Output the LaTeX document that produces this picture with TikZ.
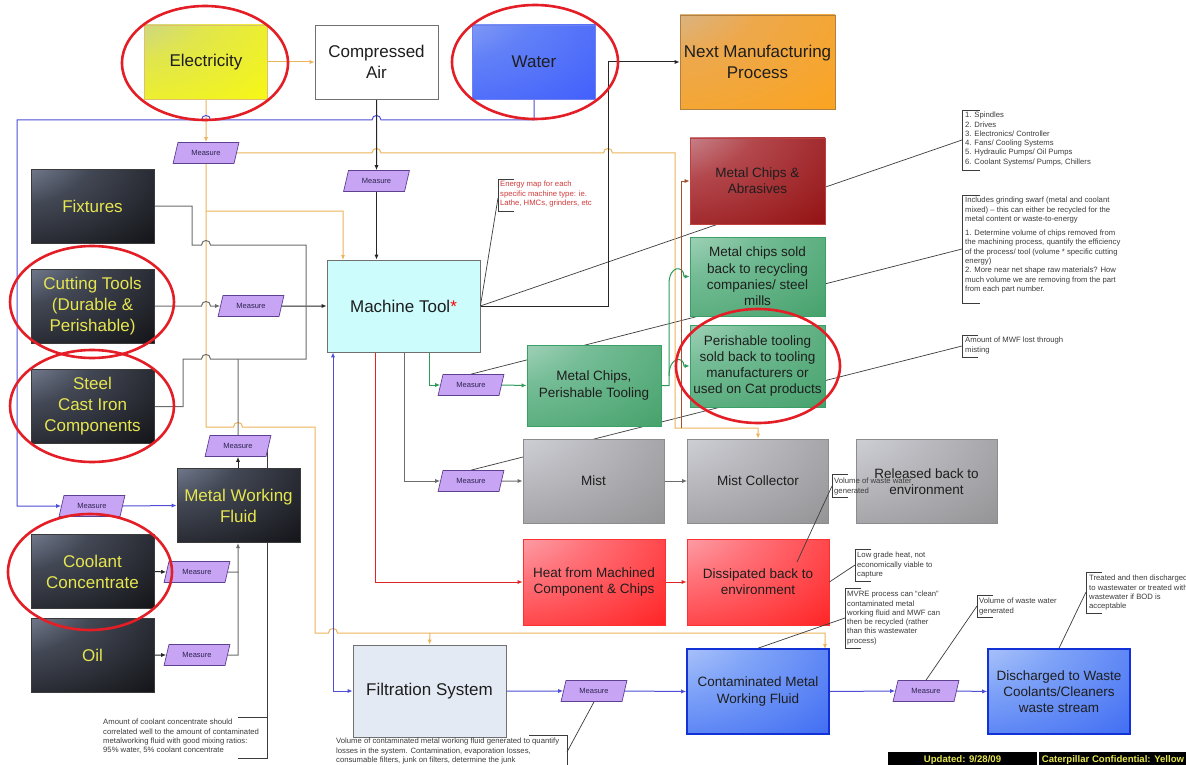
\documentclass[tikz,border=0pt]{standalone}
\usepackage{fontspec}
\setmainfont{Liberation Sans}
\usetikzlibrary{arrows.meta,shapes.geometric}

\pgfdeclarelayer{paper}
\pgfdeclarelayer{behind}
\pgfdeclarelayer{wires}
\pgfsetlayers{paper,behind,wires,main}

% palette
\definecolor{ink}{HTML}{1E1E1E}
\definecolor{gold}{HTML}{E6E650}
\definecolor{darkedge}{HTML}{3A3A3A}
\definecolor{elecedge}{HTML}{E0C070}
\definecolor{wateredge}{HTML}{7080F0}
\definecolor{nextedge}{HTML}{B08040}
\definecolor{chipedge}{HTML}{C04040}
\definecolor{greenedge}{HTML}{3AA066}
\definecolor{greyedge}{HTML}{8C8C8C}
\definecolor{heatedge}{HTML}{FF3030}
\definecolor{fluidedge}{HTML}{1232D8}
\definecolor{toolfill}{HTML}{CCFCFC}
\definecolor{filtfill}{HTML}{E4EAF4}
\definecolor{plainedge}{HTML}{707070}
\definecolor{measfill}{HTML}{C8A4F4}
\definecolor{measedge}{HTML}{5E4090}
\definecolor{meastext}{HTML}{2C2450}
\definecolor{wireorange}{HTML}{EDB45A}
\definecolor{wireblue}{HTML}{4E4ED6}
\definecolor{wiregrey}{HTML}{6C6C6C}
\definecolor{wireblack}{HTML}{262626}
\definecolor{wiregreen}{HTML}{2E9A58}
\definecolor{wirered}{HTML}{E02424}
\definecolor{wirebrown}{HTML}{A0522D}
\definecolor{notegrey}{HTML}{3C3C3C}
\definecolor{notered}{HTML}{D03A3A}
\definecolor{ring}{HTML}{E41E26}

% corner glow: pale at the top-left corner, full colour over most of the box
% (#1 name, #2 corner tint, #3 transition colour, #4 body colour, #5 far corner; each r,g,b in 0..1)
\newcommand\glowshade[5]{%
  \pgfdeclareradialshading{#1}{\pgfpoint{-50bp}{50bp}}%
    {rgb(0bp)=(#2); rgb(38bp)=(#3); rgb(76bp)=(#4); rgb(145bp)=(#5)}}
\glowshade{darkglow}{.72,.78,.89}{.26,.28,.33}{.05,.05,.06}{0,0,0}
\glowshade{elecglow}{.70,.76,.82}{.88,.90,.30}{.98,.98,.05}{1,1,0}
\glowshade{waterglow}{.68,.75,.95}{.38,.50,.97}{.24,.36,.99}{.17,.31,1}
\glowshade{nextglow}{.74,.77,.83}{.93,.66,.30}{.99,.64,.10}{1,.62,0}
\glowshade{chipglow}{.90,.86,.90}{.70,.28,.30}{.56,.04,.04}{.46,0,0}
\glowshade{greenglow}{.88,.94,.92}{.46,.74,.59}{.25,.62,.40}{.17,.53,.33}
\glowshade{greyglow}{.93,.94,.97}{.73,.73,.75}{.56,.56,.57}{.44,.44,.44}
\glowshade{heatglow}{.97,.89,.92}{1,.44,.47}{1,.10,.10}{1,0,0}
\glowshade{fluidglow}{.91,.94,.99}{.50,.64,.97}{.22,.40,.95}{.08,.25,.92}

% a horizontal line jumping over a vertical one at (#1,#2), drawn left to right
\newcommand\hopr[2]{-- ({#1-4.5},#2) .. controls ({#1-4.5},{#2-6}) and ({#1+4.5},{#2-6}) .. ({#1+4.5},#2)}
% a callout bracket "[" at x=#2 from y=#3 to y=#4, arm length #1
\newcommand\bracketL[4][16]{\draw[callout] ({#2+#1},#3) -- (#2,#3) -- (#2,#4) -- ({#2+#1},#4);}

\tikzset{
  fbig/.style={font=\fontsize{17}{21}\selectfont},
  fsmall/.style={font=\fontsize{13.5}{16.3}\selectfont},
  unit/.style={rectangle, inner sep=2pt, align=center, text=ink, line width=0.8pt},
  glow/.style={shade, shading=#1},
  supply/.style={unit, fbig, minimum width=123pt, minimum height=74pt},
  darkbox/.style={supply, text=gold, draw=darkedge, glow=darkglow},
  greenbox/.style={unit, fsmall, draw=greenedge, glow=greenglow},
  greybox/.style={unit, fsmall, minimum width=141pt, minimum height=84pt, draw=greyedge, glow=greyglow},
  heatbox/.style={unit, fsmall, minimum width=142pt, minimum height=86pt, draw=heatedge, glow=heatglow},
  fluidbox/.style={unit, fsmall, minimum width=142pt, minimum height=85pt, draw=fluidedge, line width=1.6pt, glow=fluidglow},
  measure/.style={trapezium, trapezium left angle=64, trapezium right angle=116, trapezium stretches=true,
    minimum width=66pt, minimum height=21pt, inner sep=0pt, draw=measedge, fill=measfill, line width=0.7pt,
    font=\fontsize{7.5}{8}\selectfont, text=meastext},
  wire/.style={line width=1pt},
  orng/.style={wire, draw=wireorange},
  blu/.style={wire, draw=wireblue},
  gry/.style={wire, draw=wiregrey},
  blk/.style={wire, draw=wireblack},
  grn/.style={wire, draw=wiregreen},
  rd/.style={wire, draw=wirered},
  brn/.style={wire, draw=wirebrown},
  callout/.style={draw=notegrey, line width=0.7pt},
  note/.style={anchor=north west, inner sep=0pt, align=left, font=\fontsize{7.7}{9.3}\selectfont, text=notegrey},
  ringmark/.style={draw=ring, line width=2.6pt},
  footbox/.style={fill=black, anchor=north, inner sep=0pt, minimum height=24pt, text height=10pt, text depth=14pt,
    text=gold, font=\bfseries\fontsize{9.6}{10}\selectfont},
}

\begin{document}
\begin{tikzpicture}[x=1pt, y=-1pt, >={Latex[length=5pt,width=4.2pt]}]
\useasboundingbox (0,0) rectangle (1186,765);
\begin{pgfonlayer}{paper}
  \fill[white] (0,0) rectangle (1186,765);
\end{pgfonlayer}

% ---------- resources ----------
\node[supply, draw=elecedge, glow=elecglow] (elec) at (206,62) {Electricity};
\node[supply, draw=plainedge, fill=white] (air) at (376.5,62) {Compressed\\Air};
\node[supply, draw=wateredge, glow=waterglow] (water) at (534,62) {Water};
\node[unit, fbig, minimum width=155pt, minimum height=94pt, draw=nextedge, glow=nextglow] (next) at (757.5,62) {Next Manufacturing\\Process};

\node[darkbox] (fix) at (92.5,206) {Fixtures};
\node[darkbox] (cut) at (92.5,306) {Cutting Tools\\(Durable \&\\Perishable)};
\node[darkbox] (steel) at (92.5,406.5) {Steel\\Cast Iron\\Components};
\node[darkbox] (mwf) at (238.5,505.5) {Metal Working\\Fluid};
\node[darkbox] (cool) at (92.5,571.5) {Coolant\\Concentrate};
\node[darkbox] (oil) at (92.5,655) {Oil};

% ---------- process ----------
\node[unit, fbig, minimum width=153pt, minimum height=92pt, draw=plainedge, fill=toolfill] (mt) at (403.5,306) {Machine Tool\textcolor{red}{*}};

\node[unit, fsmall, minimum width=135pt, minimum height=86pt, draw=chipedge, glow=chipglow] (mca) at (757.5,181) {Metal Chips \&\\Abrasives};
\node[greenbox, minimum width=135pt, minimum height=79pt] (mcs) at (757.5,276.5) {Metal chips sold\\back to recycling\\companies/ steel\\mills};
\node[greenbox, minimum width=135pt, minimum height=82pt] (pt) at (757.5,366) {Perishable tooling\\sold back to tooling\\manufacturers or\\used on Cat products};
\node[greenbox, minimum width=134pt, minimum height=81pt] (mcpt) at (594,385.5) {Metal Chips,\\Perishable Tooling};

\node[greybox] (mist) at (593.5,481) {Mist};
\node[greybox] (mc) at (758,481) {Mist Collector};
\node[greybox] (rel) at (926.5,481.5) {Released back to\\environment};

\node[heatbox] (heat) at (594,582) {Heat from Machined\\Component \& Chips};
\node[heatbox] (diss) at (758,582) {Dissipated back to\\environment};

\node[unit, fbig, minimum width=153pt, minimum height=92pt, draw=plainedge, fill=filtfill] (filt) at (429.5,691) {Filtration System};
\node[fluidbox] (cont) at (758,691.5) {Contaminated Metal\\Working Fluid};
\node[fluidbox] (disc) at (1059,691.5) {Discharged to Waste\\Coolants/Cleaners\\waste stream};

% ---------- measuring points ----------
\node[measure] (m1) at (206,153) {Measure};
\node[measure] (m2) at (376.5,181) {Measure};
\node[measure] (m3) at (251,306) {Measure};
\node[measure] (m4) at (238,446) {Measure};
\node[measure] (m5) at (92,506) {Measure};
\node[measure] (m6) at (197,572) {Measure};
\node[measure] (m7) at (197,655) {Measure};
\node[measure] (m8) at (471,385) {Measure};
\node[measure] (m9) at (471,481) {Measure};
\node[measure] (m10) at (594,691) {Measure};
\node[measure] (m11) at (926,691) {Measure};

% ---------- callout leaders passing behind boxes ----------
\begin{pgfonlayer}{behind}
  \draw[callout] (mt.east) -- (962,140);
  \draw[callout] (m8.north) -- (962,249);
  \draw[callout] (m9.north) -- (962,346);
  \draw[callout] (267,448) -- (267,758) -- (238,758) (267,717) -- (238,717);
\end{pgfonlayer}

% ---------- flows ----------
\begin{pgfonlayer}{wires}
  % electricity
  \draw[orng,->] (elec.east) -- (air.west);
  \draw[orng,->] (elec.south) -- (m1.north);
  \draw[orng,->] (m1.east) \hopr{376.5}{153} \hopr{608}{153} -- (675,153) -- (675,428) -| (mc.north);
  \draw[orng,->] (m1.south) -- (206,211) -| (343,260);
  \draw[orng,->] (206,211) -- (206,427) \hopr{238}{427} -- (315,427) -- (315,633) \hopr{333}{633} -- (825,633) -- (825,649);
  \draw[orng,->] (430,633) -- (filt.north);

  % water
  \draw[blu,<-] (m5.west) -- (17,506) -- (17,120) \hopr{206}{120} \hopr{376.5}{120} -- (water.south |- 0,120) -- (water.south);
  \draw[blu,->] (m5.east) -- (mwf.west);
  \draw[blu,<->] (mt.south -| 333,0) -- (333,691) -- (filt.west);
  \draw[blu,->] (filt.east) -- (m10.west);
  \draw[blu,->] (m10.east) -- (cont.west);
  \draw[blu,->] (cont.east) -- (m11.west);
  \draw[blu,->] (m11.east) -- (disc.west);

  % compressed air and material inputs
  \draw[blk,->] (air.south) -- (m2.north);
  \draw[blk,->] (m2.south) -- (m2.south |- mt.north);
  \draw[blk,->] (mt.east) -- (608,306) -- (608,62) -- (next.west);
  \draw[gry,->] (cut.east) \hopr{206}{306} -- (m3.west);
  \draw[blk,->] (m3.east) -- (mt.west);
  \draw[gry] (fix.east) -- (192,206) -- (192,245) \hopr{206}{245} -- (306,245) -- (306,306);
  \draw[gry] (steel.east) -- (183,406.5) -- (183,359) \hopr{206}{359} -- (306,359) -- (306,306);
  \draw[gry] (m4.north) -- (238,359);
  \draw[blk,->] (mwf.north -| m4.south) -- (m4.south);
  \draw[blk,->] (cool.east) -- (m6.west);
  \draw[gry,->] (m6.east) -- (238,572) -- (238,543);
  \draw[blk,->] (oil.east) -- (m7.west);
  \draw[gry] (m7.east) -- (238,655) -- (238,572);

  % outputs of the machine tool
  \draw[grn,->] (mt.south -| 429,0) |- (m8.west);
  \draw[grn,->] (m8.east) -- (mcpt.west);
  \draw[grn,->] (mcpt.east) -- (669,385.5) -- (669,284) .. controls (669,265) and (684,265) .. (684,276.5) -- (mcs.west);
  \draw[grn,->] (669,376) .. controls (669,356) and (684,356) .. (684,366) -- (pt.west);
  \draw[brn,->] (681,428) -- (681,181) -- (mca.west);
  \draw[gry,->] (mt.south -| 404,0) |- (m9.west);
  \draw[gry,->] (m9.east) -- (mist.west);
  \draw[gry,->] (mist.east) -- (mc.west);
  \draw[rd,->] (mt.south -| 375,0) |- (heat.west);
  \draw[rd,->] (heat.east) -- (diss.west);
\end{pgfonlayer}

% ---------- notes ----------
\draw[callout] (mt.east) -- (498,198);
\bracketL{498}{179}{211}
\node[note, text=notered] (n1) at (500,181) {Energy map for each\\specific machine type: ie.\\Lathe, HMCs, grinders, etc};

\bracketL[18]{962}{110}{170}
\node[note] (n2) at (965,112) {1. Spindles\\2. Drives\\3. Electronics/ Controller\\4. Fans/ Cooling Systems\\5. Hydraulic Pumps/ Oil Pumps\\6. Coolant Systems/ Pumps, Chillers};

\bracketL[18]{962}{195}{303}
\node[note] (n3) at (965,197) {Includes grinding swarf (metal and coolant\\mixed) – this can either be recycled for the\\metal content or waste-to-energy\\[5pt]1. Determine volume of chips removed from\\the machining process, quantify the efficiency\\of the process/ tool (volume * specific cutting\\energy)\\2. More near net shape raw materials? How\\much volume we are removing from the part\\from each part number.};

\bracketL{962}{335}{357}
\node[note] (n4) at (965,337) {Amount of MWF lost through\\misting};

\draw[callout] (797,562) -- (832,486);
\fill[white] (832,474) rectangle (848,497);
\bracketL{832}{474}{497}
\node[note] (n5) at (834,478) {Volume of waste water\\generated};

\draw[callout] (diss.east) -- (855,565);
\bracketL{855}{549}{581}
\node[note] (n6) at (857,552) {Low grade heat, not\\economically viable to\\capture};

\draw[callout] (cont.north) -- (845,618);
\bracketL{845}{588}{648}
\node[note] (n7) at (847,591) {MVRE process can “clean”\\contaminated metal\\working fluid and MWF can\\then be recycled (rather\\than this wastewater\\process)};

\draw[callout] (m11.north) -- (977,606);
\bracketL{977}{595}{617}
\node[note] (n8) at (979,598) {Volume of waste water\\generated};

\draw[callout] (disc.north) -- (1086,592);
\bracketL{1086}{572}{613}
\node[note] (n9) at (1089,575) {Treated and then discharged\\to wastewater or treated with\\wastewater if BOD is\\acceptable};

\draw[callout] (m10.south) -- (567,752);
\draw[callout] (529,735) -- (567,735) -- (567,775);
\node[note] (n10) at (336,738) {Volume of contaminated metal working fluid generated to quantify\\losses in the system. Contamination, evaporation losses,\\consumable filters, junk on filters, determine the junk};

\node[note] (n11) at (103,719) {Amount of coolant concentrate should\\correlated well to the amount of contaminated\\metalworking fluid with good mixing ratios:\\95\% water, 5\% coolant concentrate};

% ---------- footer ----------
\node[footbox, minimum width=149pt] (upd) at (962.5,752) {Updated: 9/28/09};
\node[footbox, minimum width=148pt] (conf) at (1113,752) {Caterpillar Confidential: Yellow};

% ---------- highlight rings ----------
\draw[ringmark] (205,63) ellipse [x radius=83pt, y radius=57pt];
\draw[ringmark] (535,62) ellipse [x radius=83pt, y radius=57pt];
\draw[ringmark] (92,302) ellipse [x radius=82pt, y radius=56pt];
\draw[ringmark] (92,406) ellipse [x radius=82pt, y radius=56pt];
\draw[ringmark] (90,572) ellipse [x radius=82pt, y radius=58pt];
\draw[ringmark] (758,366) ellipse [x radius=82pt, y radius=57pt];
\end{tikzpicture}
\end{document}
